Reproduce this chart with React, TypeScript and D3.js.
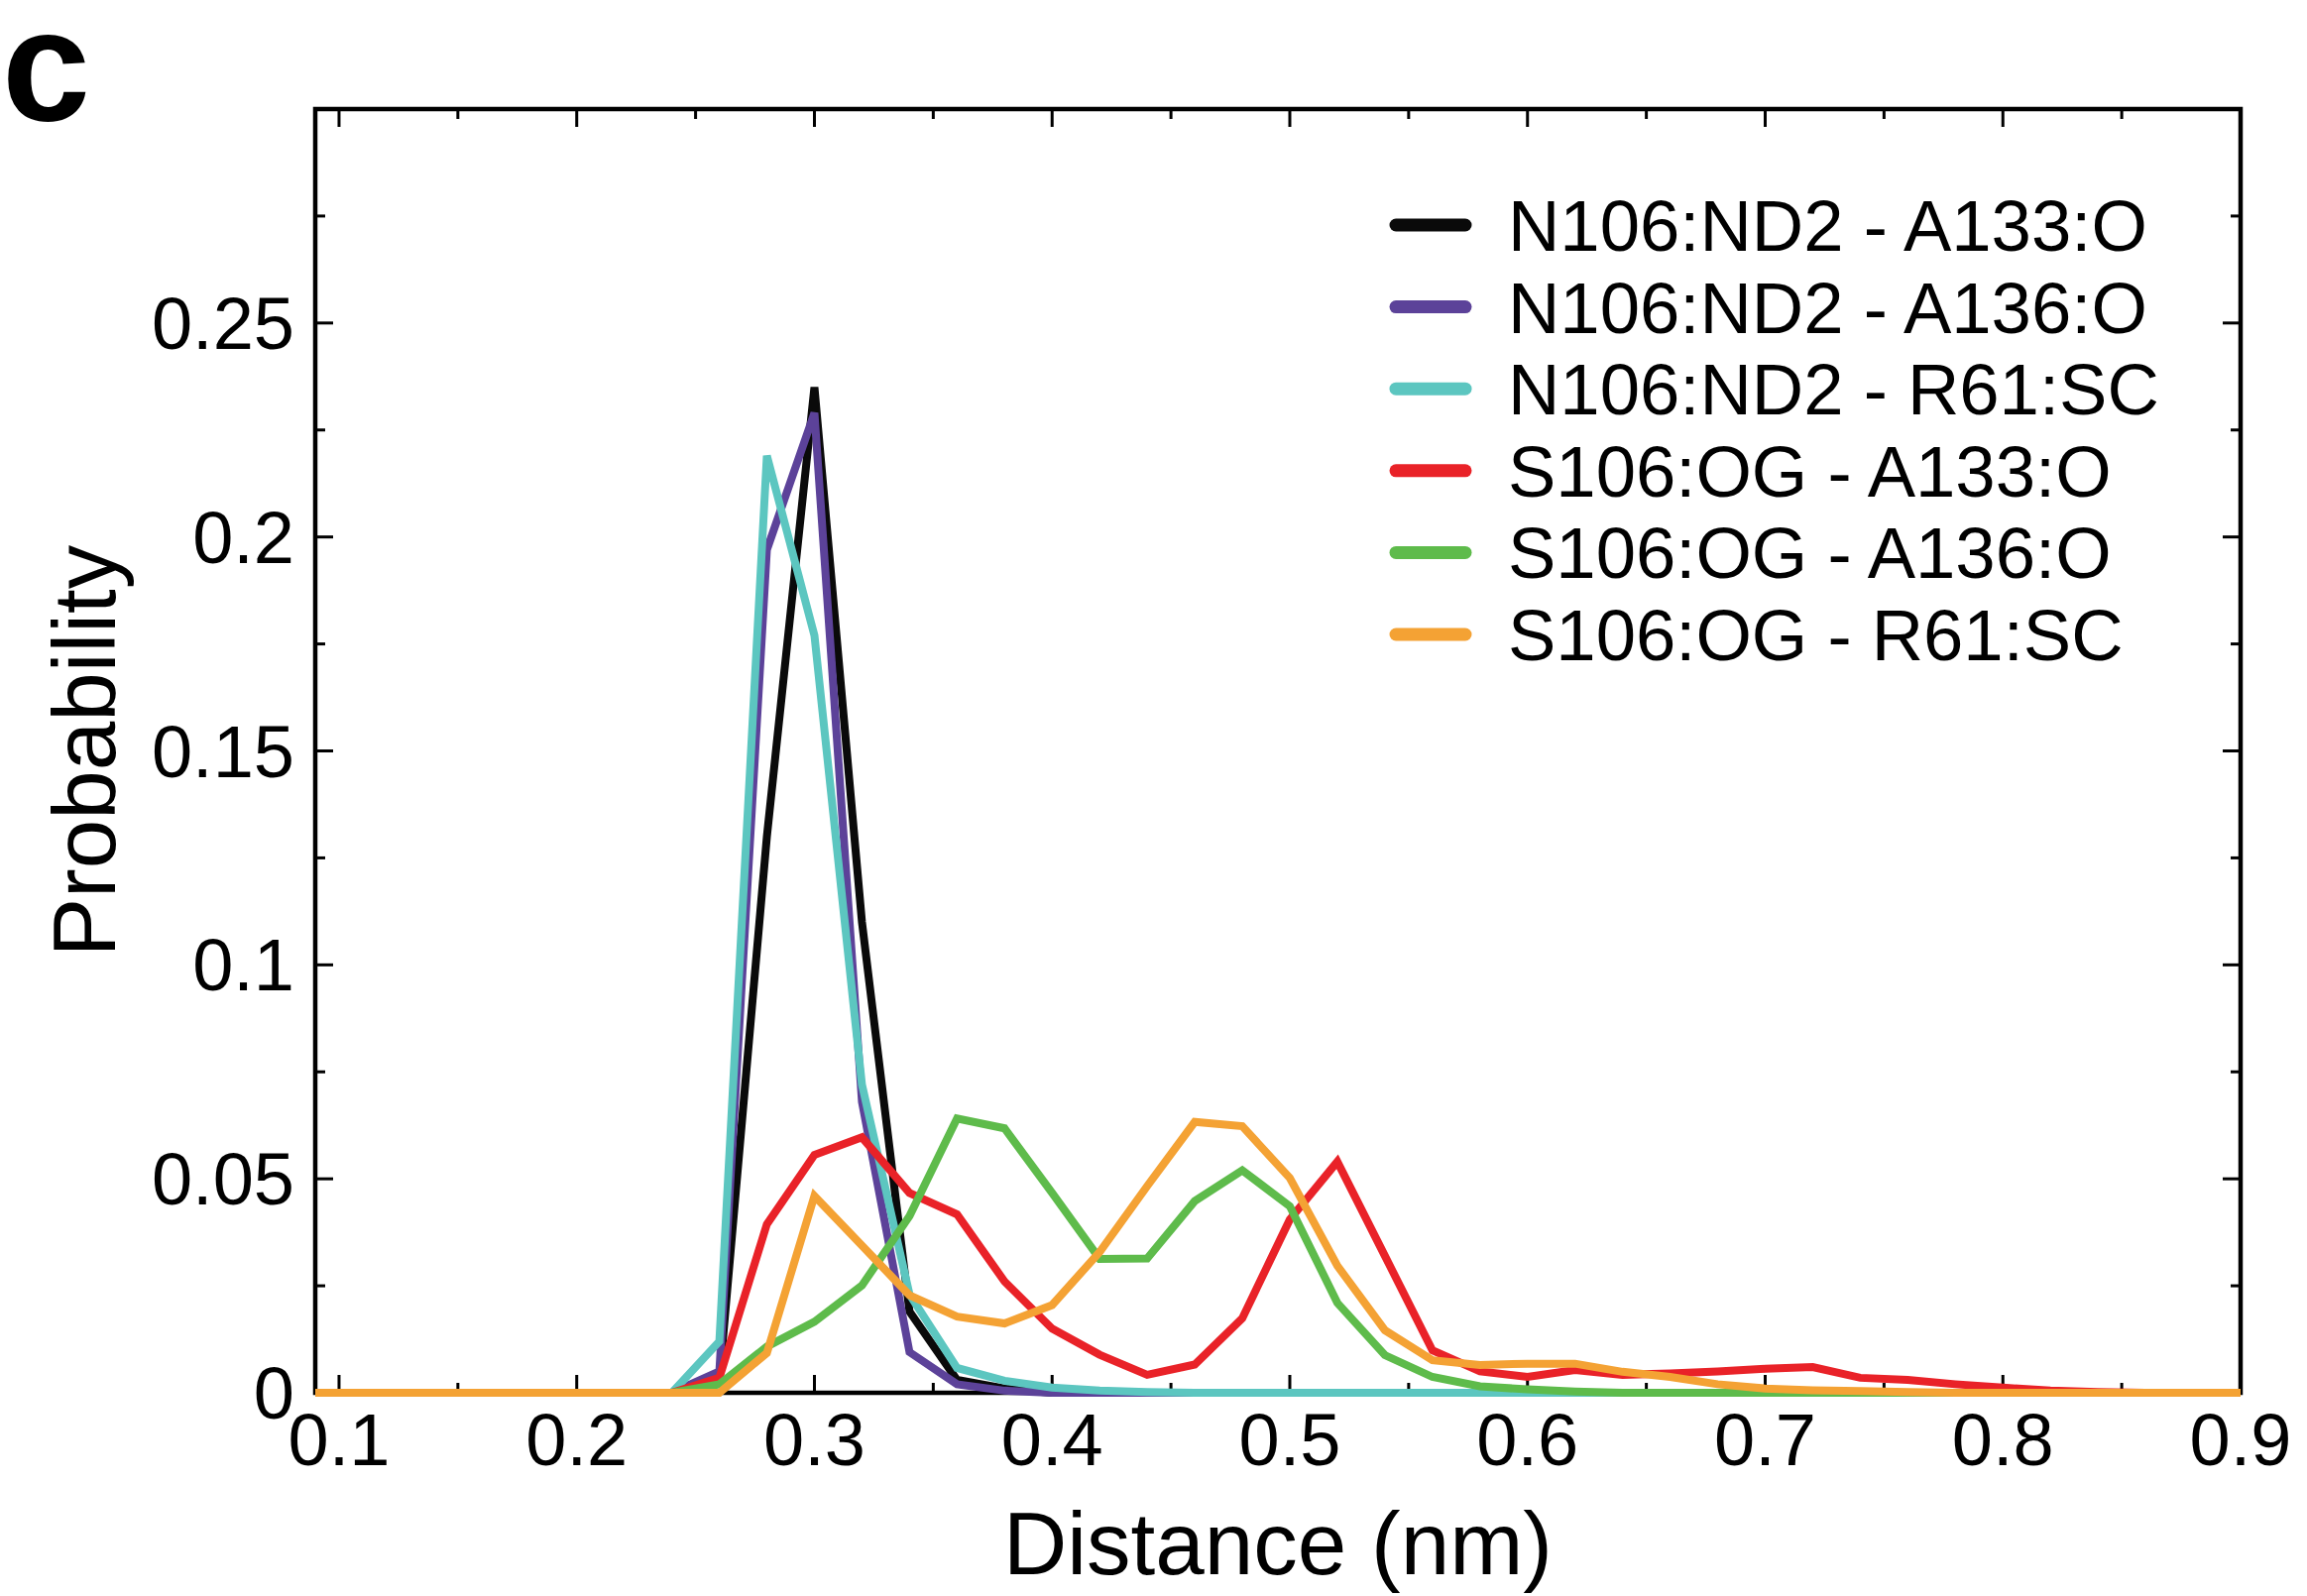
import React from "react";
import * as d3 from "d3";

const distance = [
  0.08, 0.1, 0.12, 0.14, 0.16, 0.18, 0.2, 0.22, 0.24, 0.26, 0.28, 0.3, 0.32, 0.34,
  0.36, 0.38, 0.4, 0.42, 0.44, 0.46, 0.48, 0.5, 0.52, 0.54, 0.56, 0.58, 0.6, 0.62,
  0.64, 0.66, 0.68, 0.7, 0.72, 0.74, 0.76, 0.78, 0.8, 0.82, 0.84, 0.86, 0.88, 0.9,
];

const nA133 = [
  0, 0, 0, 0, 0, 0, 0, 0, 0, 0.003, 0.13, 0.235, 0.11, 0.019,
  0.003, 0.001, 0, 0, 0, 0, 0, 0, 0, 0, 0, 0, 0, 0,
  0, 0, 0, 0, 0, 0, 0, 0, 0, 0, 0, 0, 0, 0,
];
const nA136 = [
  0, 0, 0, 0, 0, 0, 0, 0, 0, 0.005, 0.197, 0.229, 0.068, 0.0095,
  0.002, 0.0005, 0, 0, 0, 0, 0, 0, 0, 0, 0, 0, 0, 0,
  0, 0, 0, 0, 0, 0, 0, 0, 0, 0, 0, 0, 0, 0,
];
const nR61 = [
  0, 0, 0, 0, 0, 0, 0, 0, 0, 0.012, 0.219, 0.177, 0.072, 0.023,
  0.0058, 0.0028, 0.0012, 0.0005, 0.0002, 0, 0, 0, 0, 0, 0, 0, 0, 0,
  0, 0, 0, 0, 0, 0, 0, 0, 0, 0, 0, 0, 0, 0,
];
const sA133 = [
  0, 0, 0, 0, 0, 0, 0, 0, 0, 0.0035, 0.0394, 0.0556, 0.0597, 0.0467,
  0.0417, 0.026, 0.015, 0.0089, 0.0042, 0.0066, 0.0174, 0.0405, 0.054, 0.032, 0.0099, 0.005, 0.0037, 0.0053,
  0.0042, 0.0045, 0.005, 0.0056, 0.006, 0.0035, 0.003, 0.002, 0.0012, 0.0005, 0.0002, 0, 0, 0,
];
const sA136 = [
  0, 0, 0, 0, 0, 0, 0, 0, 0, 0.002, 0.0108, 0.0166, 0.0251, 0.0413,
  0.0641, 0.0618, 0.0467, 0.0313, 0.0314, 0.0448, 0.052, 0.0436, 0.021, 0.0088, 0.0037, 0.0015, 0.0008, 0.0003,
  0, 0, 0, 0, 0, 0, 0, 0, 0, 0, 0, 0, 0, 0,
];
const sR61 = [
  0, 0, 0, 0, 0, 0, 0, 0, 0, 0, 0.0093, 0.046, 0.0344, 0.0228,
  0.0178, 0.0162, 0.0205, 0.0329, 0.0483, 0.0633, 0.0623, 0.0502, 0.0297, 0.0146, 0.0076, 0.0065, 0.0068, 0.0068,
  0.0049, 0.0037, 0.002, 0.001, 0.0006, 0.0004, 0.0002, 0, 0, 0, 0, 0, 0, 0,
];

const seriesNames = [
  "N106:ND2 - A133:O",
  "N106:ND2 - A136:O",
  "N106:ND2 - R61:SC",
  "S106:OG - A133:O",
  "S106:OG - A136:O",
  "S106:OG - R61:SC",
];
const seriesColors = ["#0a0a0a", "#5c4299", "#5cc6c0", "#e92228", "#5ebb4b", "#f4a234"];
const seriesValues = [nA133, nA136, nR61, sA133, sA136, sR61];

const xMajor = [0.1, 0.2, 0.3, 0.4, 0.5, 0.6, 0.7, 0.8, 0.9];
const xMinor = [0.15, 0.25, 0.35, 0.45, 0.55, 0.65, 0.75, 0.85];
const yMajor = [0, 0.05, 0.1, 0.15, 0.2, 0.25];
const yMinor = [0.025, 0.075, 0.125, 0.175, 0.225, 0.275];

const FONT = "'Liberation Sans', Arial, Helvetica, sans-serif";

export default function App() {
  const W = 2327;
  const H = 1610;
  const left = 318;
  const right = 2260;
  const top = 110;
  const bottom = 1405;

  const x = d3.scaleLinear().domain([0.09, 0.9]).range([left, right]);
  const y = d3.scaleLinear().domain([0, 0.3]).range([bottom, top]);

  const line = d3
    .line<number>()
    .x((_, i) => x(distance[i]))
    .y((d) => y(d));

  const majorLen = 18;
  const minorLen = 10;
  const tickW = 3;

  const legendX0 = 1408;
  const legendX1 = 1478;
  const legendY0 = 227;
  const legendDy = 82.6;

  return (
    <svg
      width={W}
      height={H}
      viewBox={`0 0 ${W} ${H}`}
      style={{ position: "absolute", left: 0, top: 0, display: "block", background: "#fff" }}
    >
      <defs>
        <clipPath id="plotClip">
          <rect x={left} y={top - 10} width={right - left} height={bottom - top + 20} />
        </clipPath>
      </defs>
      <rect x={0} y={0} width={W} height={H} fill="#fff" />

      <text x={2} y={121} fontFamily={FONT} fontWeight="bold" fontSize={160} fill="#000">
        c
      </text>

      {/* ticks */}
      <g stroke="#000" strokeWidth={tickW}>
        {xMajor.map((v) => (
          <g key={`xM${v}`}>
            <line x1={x(v)} x2={x(v)} y1={bottom} y2={bottom - majorLen} />
            <line x1={x(v)} x2={x(v)} y1={top} y2={top + majorLen} />
          </g>
        ))}
        {xMinor.map((v) => (
          <g key={`xm${v}`}>
            <line x1={x(v)} x2={x(v)} y1={bottom} y2={bottom - minorLen} />
            <line x1={x(v)} x2={x(v)} y1={top} y2={top + minorLen} />
          </g>
        ))}
        {yMajor.map((v) => (
          <g key={`yM${v}`}>
            <line x1={left} x2={left + majorLen} y1={y(v)} y2={y(v)} />
            <line x1={right} x2={right - majorLen} y1={y(v)} y2={y(v)} />
          </g>
        ))}
        {yMinor.map((v) => (
          <g key={`ym${v}`}>
            <line x1={left} x2={left + minorLen} y1={y(v)} y2={y(v)} />
            <line x1={right} x2={right - minorLen} y1={y(v)} y2={y(v)} />
          </g>
        ))}
      </g>

      {/* frame */}
      <rect
        x={left}
        y={top}
        width={right - left}
        height={bottom - top}
        fill="none"
        stroke="#000"
        strokeWidth={4.5}
      />

      {/* data lines */}
      <g clipPath="url(#plotClip)">
        {seriesValues.map((vals, k) => (
          <path
            key={seriesNames[k]}
            d={line(vals) || ""}
            fill="none"
            stroke={seriesColors[k]}
            strokeWidth={8}
            strokeLinejoin="miter"
          />
        ))}
      </g>

      {/* tick labels */}
      <g fontFamily={FONT} fontSize={74} fill="#000">
        {xMajor.map((v) => (
          <text key={`xl${v}`} x={x(v)} y={1478} textAnchor="middle">
            {String(v)}
          </text>
        ))}
        {yMajor.map((v) => (
          <text key={`yl${v}`} x={297} y={y(v) + 26} textAnchor="end">
            {String(v)}
          </text>
        ))}
      </g>

      {/* axis titles */}
      <text
        x={(left + right) / 2}
        y={1588}
        textAnchor="middle"
        fontFamily={FONT}
        fontSize={89}
        fill="#000"
      >
        Distance (nm)
      </text>
      <text
        transform={`translate(116, ${(top + bottom) / 2}) rotate(-90)`}
        textAnchor="middle"
        fontFamily={FONT}
        fontSize={89}
        fill="#000"
      >
        Probability
      </text>

      {/* legend */}
      <g fontFamily={FONT} fontSize={72.5} fill="#000">
        {seriesNames.map((name, k) => (
          <g key={`lg${name}`}>
            <line
              x1={legendX0}
              x2={legendX1}
              y1={legendY0 + k * legendDy}
              y2={legendY0 + k * legendDy}
              stroke={seriesColors[k]}
              strokeWidth={13}
              strokeLinecap="round"
            />
            <text x={1521} y={legendY0 + k * legendDy + 26}>
              {name}
            </text>
          </g>
        ))}
      </g>
    </svg>
  );
}
